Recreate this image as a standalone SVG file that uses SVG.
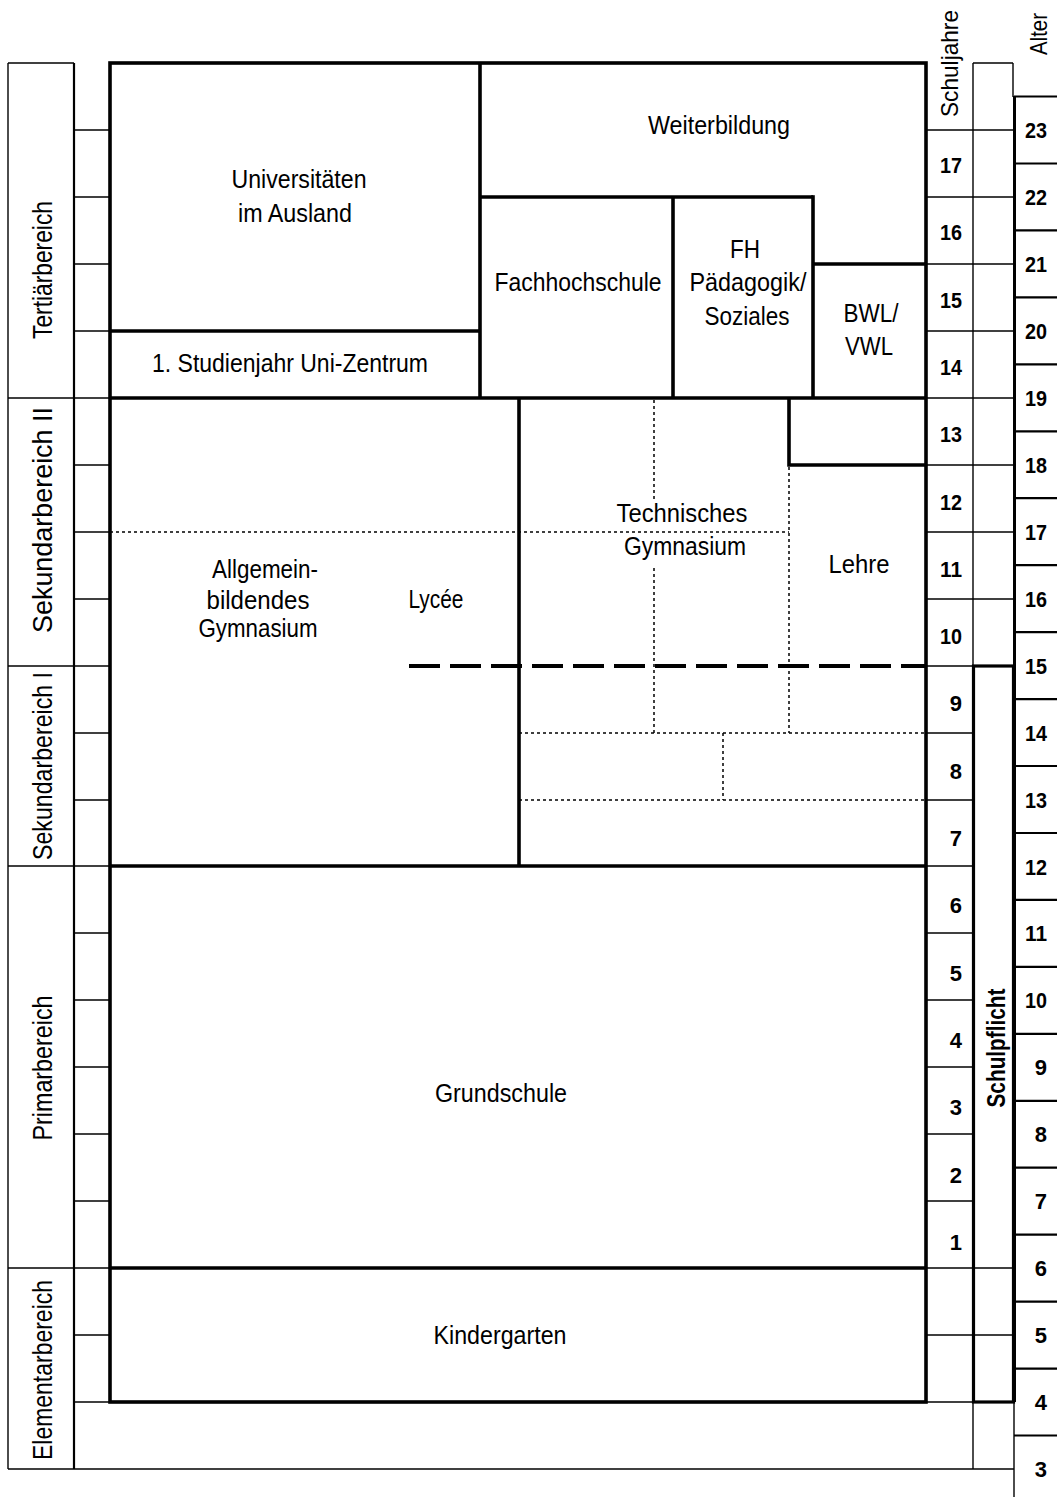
<svg xmlns="http://www.w3.org/2000/svg" width="1057" height="1497" viewBox="0 0 1057 1497">
<style>
.ln{stroke:#000;fill:none;stroke-width:1.4}
.md{stroke:#000;fill:none;stroke-width:2.2}
.tk{stroke:#000;fill:none;stroke-width:3.6}
.dot{stroke:#000;fill:none;stroke-width:1.5;stroke-dasharray:3 3}
.dash{stroke:#000;fill:none;stroke-width:4;stroke-dasharray:31 10}
text{font-family:"Liberation Sans",Arial,sans-serif;fill:#000}
.t{font-size:25px;text-anchor:middle}
.lab{font-size:28px;text-anchor:middle}
.num{font-size:22px;font-weight:bold;text-anchor:end}
</style>
<rect width="1057" height="1497" fill="#fff"/>

<g id="left-sectors">
  <line class="ln" x1="8" y1="63" x2="8" y2="1469"/>
  <line class="md" x1="74" y1="63" x2="74" y2="1469"/>
  <line class="ln" x1="8" y1="63" x2="74" y2="63"/>
  <line class="ln" x1="8" y1="398" x2="110" y2="398"/>
  <line class="ln" x1="8" y1="666" x2="110" y2="666"/>
  <line class="ln" x1="8" y1="866" x2="110" y2="866"/>
  <line class="ln" x1="8" y1="1268" x2="110" y2="1268"/>
  <text class="lab" transform="translate(52,270) rotate(-90)" textLength="138" lengthAdjust="spacingAndGlyphs">Tertiärbereich</text>
  <text class="lab" transform="translate(52,520) rotate(-90)" textLength="226" lengthAdjust="spacingAndGlyphs">Sekundarbereich II</text>
  <text class="lab" transform="translate(52,766) rotate(-90)" textLength="188" lengthAdjust="spacingAndGlyphs">Sekundarbereich I</text>
  <text class="lab" transform="translate(52,1068) rotate(-90)" textLength="145" lengthAdjust="spacingAndGlyphs">Primarbereich</text>
  <text class="lab" transform="translate(52,1370) rotate(-90)" textLength="180" lengthAdjust="spacingAndGlyphs">Elementarbereich</text>
</g>

<g id="row-ticks">
  <line class="ln" x1="74" y1="130" x2="110" y2="130"/>
  <line class="ln" x1="74" y1="197" x2="110" y2="197"/>
  <line class="ln" x1="74" y1="264" x2="110" y2="264"/>
  <line class="ln" x1="74" y1="331" x2="110" y2="331"/>
  <line class="ln" x1="74" y1="465" x2="110" y2="465"/>
  <line class="ln" x1="74" y1="532" x2="110" y2="532"/>
  <line class="ln" x1="74" y1="599" x2="110" y2="599"/>
  <line class="ln" x1="74" y1="733" x2="110" y2="733"/>
  <line class="ln" x1="74" y1="800" x2="110" y2="800"/>
  <line class="ln" x1="74" y1="933" x2="110" y2="933"/>
  <line class="ln" x1="74" y1="1000" x2="110" y2="1000"/>
  <line class="ln" x1="74" y1="1067" x2="110" y2="1067"/>
  <line class="ln" x1="74" y1="1134" x2="110" y2="1134"/>
  <line class="ln" x1="74" y1="1201" x2="110" y2="1201"/>
  <line class="ln" x1="74" y1="1335" x2="110" y2="1335"/>
  <line class="ln" x1="74" y1="1402" x2="110" y2="1402"/>
  <line class="ln" x1="8" y1="1469" x2="1014" y2="1469"/>
</g>

<g id="connectors">
  <rect class="tk" x="110" y="63" width="816" height="1339"/>
  <line class="tk" x1="480" y1="63" x2="480" y2="398"/>
  <line class="tk" x1="110" y1="331" x2="480" y2="331"/>
  <line class="tk" x1="480" y1="197" x2="813" y2="197"/>
  <line class="tk" x1="673" y1="197" x2="673" y2="398"/>
  <line class="tk" x1="813" y1="195.2" x2="813" y2="398"/>
  <line class="tk" x1="813" y1="264" x2="926" y2="264"/>
  <line class="tk" x1="110" y1="398" x2="926" y2="398"/>
  <line class="tk" x1="519" y1="398" x2="519" y2="866"/>
  <polyline class="tk" points="789,398 789,465 926,465"/>
  <line class="tk" x1="110" y1="866" x2="926" y2="866"/>
  <line class="tk" x1="110" y1="1268" x2="926" y2="1268"/>
  <line class="dot" x1="110" y1="532" x2="789" y2="532"/>
  <line class="dot" x1="654" y1="400" x2="654" y2="499"/>
  <line class="dot" x1="654" y1="568" x2="654" y2="733"/>
  <line class="dot" x1="789" y1="467" x2="789" y2="733"/>
  <line class="dot" x1="519" y1="733" x2="926" y2="733"/>
  <line class="dot" x1="519" y1="800" x2="926" y2="800"/>
  <line class="dot" x1="723" y1="733" x2="723" y2="800"/>
  <line class="dash" x1="409" y1="666" x2="926" y2="666"/>
</g>

<g id="node-uni"><text class="t" x="299" y="188" textLength="135" lengthAdjust="spacingAndGlyphs">Universitäten</text><text class="t" x="295" y="222" textLength="114" lengthAdjust="spacingAndGlyphs">im Ausland</text></g>
<g id="node-studienjahr"><text class="t" x="290" y="372" textLength="276" lengthAdjust="spacingAndGlyphs">1. Studienjahr Uni-Zentrum</text></g>
<g id="node-weiterbildung"><text class="t" x="719" y="134" textLength="142" lengthAdjust="spacingAndGlyphs">Weiterbildung</text></g>
<g id="node-fh"><text class="t" x="578" y="291" textLength="167" lengthAdjust="spacingAndGlyphs">Fachhochschule</text></g>
<g id="node-fhpaed"><text class="t" x="745" y="258" textLength="30" lengthAdjust="spacingAndGlyphs">FH</text><text class="t" x="748" y="291" textLength="117" lengthAdjust="spacingAndGlyphs">Pädagogik/</text><text class="t" x="747" y="325" textLength="85" lengthAdjust="spacingAndGlyphs">Soziales</text></g>
<g id="node-bwl"><text class="t" x="871" y="322" textLength="55" lengthAdjust="spacingAndGlyphs">BWL/</text><text class="t" x="869" y="355" textLength="48" lengthAdjust="spacingAndGlyphs">VWL</text></g>
<g id="node-gym"><text class="t" x="265" y="578" textLength="106" lengthAdjust="spacingAndGlyphs">Allgemein-</text><text class="t" x="258" y="609" textLength="103" lengthAdjust="spacingAndGlyphs">bildendes</text><text class="t" x="258" y="637" textLength="119" lengthAdjust="spacingAndGlyphs">Gymnasium</text></g>
<g id="node-lycee"><text class="t" x="436" y="608" textLength="55" lengthAdjust="spacingAndGlyphs">Lycée</text></g>
<g id="node-techgym"><text class="t" x="682" y="522" textLength="131" lengthAdjust="spacingAndGlyphs">Technisches</text><text class="t" x="685" y="555" textLength="122" lengthAdjust="spacingAndGlyphs">Gymnasium</text></g>
<g id="node-lehre"><text class="t" x="859" y="573" textLength="61" lengthAdjust="spacingAndGlyphs">Lehre</text></g>
<g id="node-grundschule"><text class="t" x="501" y="1102" textLength="132" lengthAdjust="spacingAndGlyphs">Grundschule</text></g>
<g id="node-kindergarten"><text class="t" x="500" y="1344" textLength="133" lengthAdjust="spacingAndGlyphs">Kindergarten</text></g>

<g id="schuljahre">
  <line class="ln" x1="973" y1="63" x2="973" y2="1469"/>
  <line class="ln" x1="973" y1="63" x2="1013" y2="63"/>
  <line class="ln" x1="1013" y1="63" x2="1013" y2="97"/>
  <line class="ln" x1="926" y1="130" x2="1013" y2="130"/>
  <line class="ln" x1="926" y1="197" x2="1013" y2="197"/>
  <line class="ln" x1="926" y1="264" x2="1013" y2="264"/>
  <line class="ln" x1="926" y1="331" x2="1013" y2="331"/>
  <line class="ln" x1="926" y1="398" x2="1013" y2="398"/>
  <line class="ln" x1="926" y1="465" x2="1013" y2="465"/>
  <line class="ln" x1="926" y1="532" x2="1013" y2="532"/>
  <line class="ln" x1="926" y1="599" x2="1013" y2="599"/>
  <line class="ln" x1="926" y1="666" x2="973" y2="666"/>
  <line class="ln" x1="926" y1="733" x2="973" y2="733"/>
  <line class="ln" x1="926" y1="800" x2="973" y2="800"/>
  <line class="ln" x1="926" y1="866" x2="973" y2="866"/>
  <line class="ln" x1="926" y1="933" x2="973" y2="933"/>
  <line class="ln" x1="926" y1="1000" x2="973" y2="1000"/>
  <line class="ln" x1="926" y1="1067" x2="973" y2="1067"/>
  <line class="ln" x1="926" y1="1134" x2="973" y2="1134"/>
  <line class="ln" x1="926" y1="1201" x2="973" y2="1201"/>
  <line class="ln" x1="926" y1="1268" x2="1013" y2="1268"/>
  <line class="ln" x1="926" y1="1335" x2="1013" y2="1335"/>
  <line class="ln" x1="926" y1="1402" x2="973" y2="1402"/>
  <text class="lab" style="font-size:24px" transform="translate(958,63.5) rotate(-90)" textLength="107" lengthAdjust="spacingAndGlyphs">Schuljahre</text>
  <text class="num" x="962" y="173" textLength="22" lengthAdjust="spacingAndGlyphs">17</text>
  <text class="num" x="962" y="240.3" textLength="22" lengthAdjust="spacingAndGlyphs">16</text>
  <text class="num" x="962" y="307.6" textLength="22" lengthAdjust="spacingAndGlyphs">15</text>
  <text class="num" x="962" y="374.9" textLength="22" lengthAdjust="spacingAndGlyphs">14</text>
  <text class="num" x="962" y="442.2" textLength="22" lengthAdjust="spacingAndGlyphs">13</text>
  <text class="num" x="962" y="509.5" textLength="22" lengthAdjust="spacingAndGlyphs">12</text>
  <text class="num" x="962" y="576.8" textLength="22" lengthAdjust="spacingAndGlyphs">11</text>
  <text class="num" x="962" y="644.1" textLength="22" lengthAdjust="spacingAndGlyphs">10</text>
  <text class="num" x="962" y="711.4">9</text>
  <text class="num" x="962" y="778.7">8</text>
  <text class="num" x="962" y="846">7</text>
  <text class="num" x="962" y="913.3">6</text>
  <text class="num" x="962" y="980.6">5</text>
  <text class="num" x="962" y="1047.9">4</text>
  <text class="num" x="962" y="1115.2">3</text>
  <text class="num" x="962" y="1182.5">2</text>
  <text class="num" x="962" y="1249.8">1</text>
</g>

<g id="node-schulpflicht">
  <rect class="tk" x="973.5" y="666" width="40" height="736" style="stroke-width:3.2"/>
  <text class="lab" style="font-size:26px;font-weight:bold" transform="translate(1005,1048) rotate(-90)" textLength="119" lengthAdjust="spacingAndGlyphs">Schulpflicht</text>
</g>

<g id="alter">
  <line class="tk" x1="1014.5" y1="96" x2="1014.5" y2="1402" style="stroke-width:3"/>
  <line class="ln" x1="1014" y1="1402" x2="1014" y2="1497"/>
  <text class="lab" style="font-size:24px" transform="translate(1047,34) rotate(-90)" textLength="42" lengthAdjust="spacingAndGlyphs">Alter</text>
  <line class="md" x1="1014" y1="96.5" x2="1057" y2="96.5"/>
  <line class="md" x1="1014" y1="163.5" x2="1057" y2="163.5"/>
  <line class="md" x1="1014" y1="230.4" x2="1057" y2="230.4"/>
  <line class="md" x1="1014" y1="297.4" x2="1057" y2="297.4"/>
  <line class="md" x1="1014" y1="364.3" x2="1057" y2="364.3"/>
  <line class="md" x1="1014" y1="431.3" x2="1057" y2="431.3"/>
  <line class="md" x1="1014" y1="498.2" x2="1057" y2="498.2"/>
  <line class="md" x1="1014" y1="565.2" x2="1057" y2="565.2"/>
  <line class="md" x1="1014" y1="632.1" x2="1057" y2="632.1"/>
  <line class="md" x1="1014" y1="699.1" x2="1057" y2="699.1"/>
  <line class="md" x1="1014" y1="766" x2="1057" y2="766"/>
  <line class="md" x1="1014" y1="833" x2="1057" y2="833"/>
  <line class="md" x1="1014" y1="899.9" x2="1057" y2="899.9"/>
  <line class="md" x1="1014" y1="966.9" x2="1057" y2="966.9"/>
  <line class="md" x1="1014" y1="1033.8" x2="1057" y2="1033.8"/>
  <line class="md" x1="1014" y1="1100.8" x2="1057" y2="1100.8"/>
  <line class="md" x1="1014" y1="1167.7" x2="1057" y2="1167.7"/>
  <line class="md" x1="1014" y1="1234.7" x2="1057" y2="1234.7"/>
  <line class="md" x1="1014" y1="1301.6" x2="1057" y2="1301.6"/>
  <line class="md" x1="1014" y1="1368.6" x2="1057" y2="1368.6"/>
  <line class="md" x1="1014" y1="1435.5" x2="1057" y2="1435.5"/>
  <text class="num" x="1047" y="138" textLength="22" lengthAdjust="spacingAndGlyphs">23</text>
  <text class="num" x="1047" y="205" textLength="22" lengthAdjust="spacingAndGlyphs">22</text>
  <text class="num" x="1047" y="272" textLength="22" lengthAdjust="spacingAndGlyphs">21</text>
  <text class="num" x="1047" y="339" textLength="22" lengthAdjust="spacingAndGlyphs">20</text>
  <text class="num" x="1047" y="406" textLength="22" lengthAdjust="spacingAndGlyphs">19</text>
  <text class="num" x="1047" y="473" textLength="22" lengthAdjust="spacingAndGlyphs">18</text>
  <text class="num" x="1047" y="540" textLength="22" lengthAdjust="spacingAndGlyphs">17</text>
  <text class="num" x="1047" y="607" textLength="22" lengthAdjust="spacingAndGlyphs">16</text>
  <text class="num" x="1047" y="674" textLength="22" lengthAdjust="spacingAndGlyphs">15</text>
  <text class="num" x="1047" y="741" textLength="22" lengthAdjust="spacingAndGlyphs">14</text>
  <text class="num" x="1047" y="808" textLength="22" lengthAdjust="spacingAndGlyphs">13</text>
  <text class="num" x="1047" y="875" textLength="22" lengthAdjust="spacingAndGlyphs">12</text>
  <text class="num" x="1047" y="941" textLength="22" lengthAdjust="spacingAndGlyphs">11</text>
  <text class="num" x="1047" y="1008" textLength="22" lengthAdjust="spacingAndGlyphs">10</text>
  <text class="num" x="1047" y="1075">9</text>
  <text class="num" x="1047" y="1142">8</text>
  <text class="num" x="1047" y="1209">7</text>
  <text class="num" x="1047" y="1276">6</text>
  <text class="num" x="1047" y="1343">5</text>
  <text class="num" x="1047" y="1410">4</text>
  <text class="num" x="1047" y="1477">3</text>
</g>
</svg>
